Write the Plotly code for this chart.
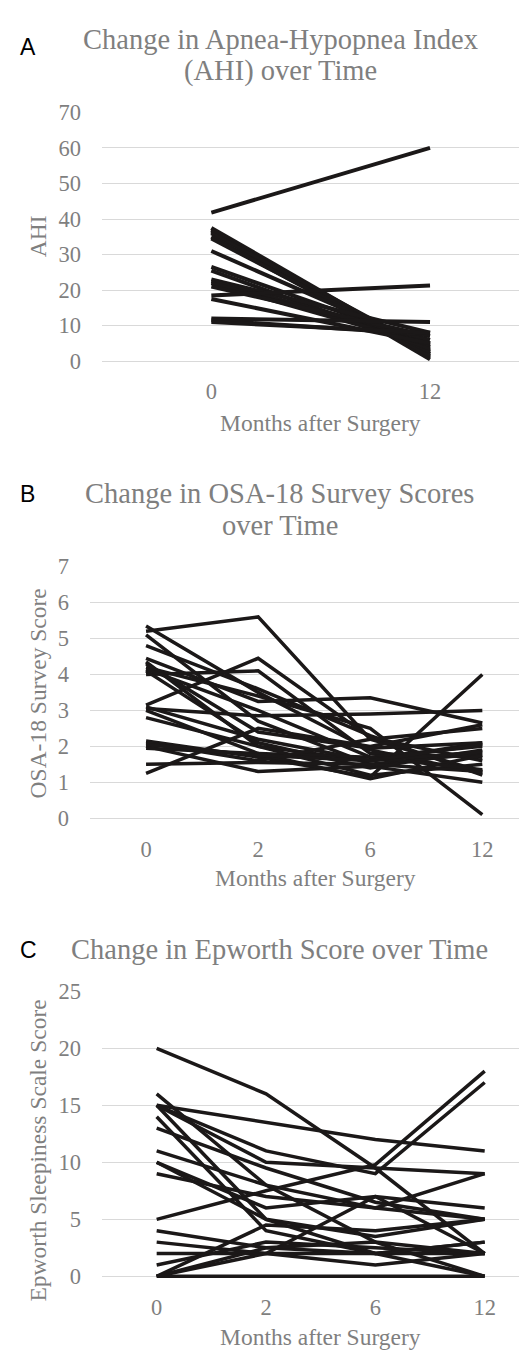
import plotly.graph_objects as go

# ---------------- data ----------------
ahi_months = ["0", "12"]
ahi_series = [
    [41.8, 60.0], [37.5, 2.0], [37.0, 1.0], [36.5, 0.5], [36.0, 3.0],
    [35.0, 1.5], [34.5, 2.5], [31.0, 4.0], [26.5, 5.0], [25.5, 3.5],
    [23.0, 8.0], [22.5, 6.0], [22.0, 4.5], [21.0, 7.0], [18.5, 21.3],
    [17.5, 5.0], [12.0, 11.0], [11.5, 7.5], [11.0, 8.0],
]

osa_months = ["0", "2", "6", "12"]
osa_series = [
    [5.2, 5.6, 2.2, 1.3], [5.35, 3.5, 1.9, 1.25], [5.1, 2.7, 1.5, 1.8],
    [4.8, 3.6, 2.3, 1.2], [4.45, 3.25, 3.35, 2.65], [4.35, 2.0, 1.6, 2.1],
    [3.15, 4.45, 2.25, 1.6], [4.0, 4.1, 1.8, 1.7], [4.1, 2.1, 1.4, 1.9],
    [4.2, 3.4, 2.5, 0.1], [3.05, 2.85, 2.9, 3.0], [3.0, 1.8, 1.7, 2.0],
    [2.8, 2.0, 1.2, 1.5], [2.15, 1.7, 1.15, 4.0], [2.1, 1.6, 2.2, 2.5],
    [2.0, 1.3, 1.45, 1.0], [1.95, 1.8, 1.1, 1.75], [1.5, 1.55, 1.5, 1.3],
    [1.25, 2.5, 2.0, 2.6], [4.3, 2.4, 1.95, 2.1], [2.05, 1.75, 1.6, 1.85],
    [4.15, 3.0, 1.7, 1.35], [3.1, 2.2, 1.6, 2.05],
]

ess_months = ["0", "2", "6", "12"]
ess_series = [
    [20, 16, 9.5, 2], [15, 13.5, 12, 11], [16, 8, 3, 0], [15, 11, 9, 17],
    [15, 10, 9.5, 9], [14, 4, 2, 3], [13, 9.5, 6.5, 5], [11, 8, 6, 5],
    [10, 6, 7, 2], [9, 7, 6, 9], [5, 7.5, 9.8, 18], [4, 2.5, 2, 2],
    [3, 2, 1, 2], [2, 2, 2, 3], [1, 3, 2.5, 2], [0, 4.5, 4, 5],
    [0, 2, 7, 6], [0, 0, 0, 0], [0, 2.5, 3, 2], [15, 5, 3.5, 5],
    [10, 5, 2, 0],
]

# ---------------- styling ----------------
W, H = 527, 1357
LINE = "#1b1818"
GRAY = "#7f7f7f"
GRID = "#d9d9d9"
SERIF = "Liberation Serif, Times New Roman, serif"
SANS = "Liberation Sans, Arial, sans-serif"

def py(px):
    return 1 - px / H

fig = go.Figure()

panels = [
    # (series, months, axis suffix, y-range, dtick, x-range, domain x, domain y px (top,bottom), width)
    (ahi_series, ahi_months, "", [-0.6, 70], 10, [-0.5, 1.48], [94 / W, 1], (94, 349.2), 4),
    (osa_series, osa_months, "2", [-0.1, 7], 1, [-0.5, 3.47], [82 / W, 1], (556, 815.7), 3.5),
    (ess_series, ess_months, "3", [-0.25, 25], 5, [-0.5, 3.46], [94 / W, 1], (988, 1280.9), 3.5),
]

for series, months, sfx, yr, dt, xr, dx, (top, bot), lw in panels:
    xs = list(range(len(months)))
    for s in series:
        fig.add_trace(go.Scatter(
            x=xs, y=s, mode="lines", xaxis="x" + sfx, yaxis="y" + sfx,
            line=dict(color=LINE, width=lw), showlegend=False, hoverinfo="skip",
        ))
    fig.update_layout(**{
        "xaxis" + sfx: dict(
            domain=dx, anchor="y" + sfx, range=xr,
            tickmode="array", tickvals=xs, ticktext=months,
            showgrid=False, zeroline=False, showline=False, ticks="",
            tickfont=dict(family=SERIF, size=22.5, color=GRAY),
            ticklabelstandoff=12,
        ),
        "yaxis" + sfx: dict(
            domain=[py(bot), py(top)], anchor="x" + sfx, range=yr,
            tick0=0, dtick=dt, showgrid=True, gridcolor=GRID, gridwidth=1,
            zeroline=False, showline=False, ticks="",
            tickfont=dict(family=SERIF, size=22.5, color=GRAY),
            ticklabelstandoff=20,
        ),
    })

ann = []
def text(x, y, t, size, color=GRAY, family=SERIF, angle=0):
    ann.append(dict(x=x / W, y=py(y), xref="paper", yref="paper", text=t,
                    showarrow=False, xanchor="center", yanchor="middle",
                    textangle=angle, font=dict(family=family, size=size, color=color)))

# panel letters
text(20, 27.5, "A", 23, "#000000", SANS)
text(19, 482, "B", 23, "#000000", SANS)
text(20, 946, "C", 23, "#000000", SANS)

# titles
text(272, 19.5, "Change in Apnea-Hypopnea Index", 28.5)
text(272, 51.5, "(AHI) over Time", 28.5)
text(271, 482, "Change in OSA-18 Survey Scores", 28.5)
text(272, 514, "over Time", 28.5)
text(271, 946, "Change in Epworth Score over Time", 28.5)

# axis titles
text(312, 410, "Months after Surgery", 23.5)
text(307, 873, "Months after Surgery", 23.5)
text(312, 1340, "Months after Surgery", 23.5)
text(30, 220, "AHI", 23.5, angle=-90)
text(30, 685, "OSA-18 Survey Score", 23.5, angle=-90)
text(30, 1150, "Epworth Sleepiness Scale Score", 23.5, angle=-90)

fig.update_layout(
    width=W, height=H, margin=dict(l=0, r=0, t=0, b=0),
    paper_bgcolor="white", plot_bgcolor="white",
    annotations=ann, showlegend=False,
)

fig.write_html("out.html")
